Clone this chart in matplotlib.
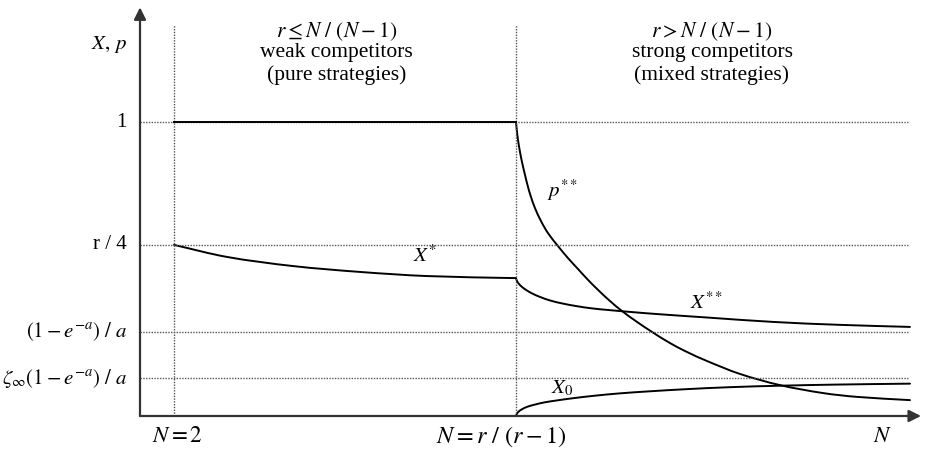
import matplotlib
matplotlib.use("Agg")
import matplotlib.pyplot as plt
import numpy as np
from matplotlib.path import Path
from matplotlib.patches import PathPatch

plt.rcParams['font.family'] = ['Liberation Serif', 'DejaVu Serif']
plt.rcParams['mathtext.fontset'] = 'stix'

# ---- data (arbitrary schematic units) ----
N2 = 0.34          # position of N = 2
Nc = 3.76          # position of N = r/(r-1)

levels = [1.0, 0.582, 0.286, 0.129]
level_labels = ['1', 'r / 4', r'$(1-e^{-a})\ /\ a$', r'$\zeta_{\infty}(1-e^{-a})\ /\ a$']

p_weak_x = [0.34, 3.76]
p_weak_y = [1.0, 1.0]

p_strong_x = [3.76, 3.77, 3.78, 3.80, 3.82, 3.85, 3.88, 3.91, 3.95, 4.01, 4.08, 4.18,
              4.28, 4.38, 4.48, 4.58, 4.70, 4.82, 4.97, 5.12, 5.28, 5.45, 5.67, 6.00,
              6.40, 6.83, 7.17, 7.70]
p_strong_y = [1.000, 0.966, 0.939, 0.898, 0.864, 0.820, 0.779, 0.745, 0.707, 0.663, 0.622, 0.578,
              0.537, 0.500, 0.463, 0.429, 0.391, 0.357, 0.320, 0.286, 0.252, 0.221, 0.187, 0.143,
              0.105, 0.078, 0.065, 0.054]

xs_x = [0.34, 0.87, 1.53, 2.20, 2.87, 3.76]
xs_y = [0.582, 0.541, 0.510, 0.490, 0.476, 0.469]

xss_x = [3.76, 3.77, 3.79, 3.82, 3.86, 3.92, 4.00, 4.10, 4.22, 4.36, 4.52, 4.70, 4.90,
         5.20, 5.67, 6.33, 7.00, 7.70]
xss_y = [0.469, 0.459, 0.449, 0.439, 0.429, 0.417, 0.405, 0.393, 0.383, 0.374, 0.366, 0.360,
         0.354, 0.346, 0.335, 0.320, 0.310, 0.303]

x0_x = [3.76, 3.77, 3.79, 3.82, 3.87, 3.94, 4.04, 4.17, 4.32, 4.52, 4.80, 5.10, 5.45,
        5.90, 6.40, 7.00, 7.70]
x0_y = [0.000, 0.0085, 0.016, 0.023, 0.031, 0.038, 0.046, 0.053, 0.060, 0.068, 0.077, 0.084,
        0.091, 0.098, 0.103, 0.107, 0.110]

fig = plt.figure(figsize=(9.25, 4.57), dpi=100)
ax = fig.add_axes([0, 0, 1, 1])
ax.set_xlim(-1.40, 7.85)
ax.set_ylim(-0.1395, 1.415)
ax.axis('off')


def smooth_curve(ax, xs, ys, **kw):
    """Draw a smooth curve through the given data points (cubic Bezier segments)."""
    P = np.column_stack([xs, ys]).astype(float)
    D = ax.transData.transform(P)
    d = np.hypot(*np.diff(D, axis=0).T)
    n = len(P)
    T = np.zeros_like(P)
    for i in range(n):
        if i == 0:
            T[i] = (P[1] - P[0]) / d[0]
        elif i == n - 1:
            T[i] = (P[-1] - P[-2]) / d[-1]
        else:
            T[i] = (P[i + 1] - P[i - 1]) / (d[i - 1] + d[i])
    verts = [P[0]]
    codes = [Path.MOVETO]
    for i in range(n - 1):
        c1 = P[i] + T[i] * d[i] / 3
        c2 = P[i + 1] - T[i + 1] * d[i] / 3
        verts += [c1, c2, P[i + 1]]
        codes += [Path.CURVE4] * 3
    ax.add_patch(PathPatch(Path(verts, codes), fill=False, transform=ax.transData,
                           capstyle='round', joinstyle='round', **kw))


dot = dict(color='#555555', lw=1.0, linestyle=(0, (1, 1)))
for lv in levels:
    ax.plot([0, 7.68], [lv, lv], **dot)
ax.plot([N2, N2], [0, 1.33], **dot)
ax.plot([Nc, Nc], [0, 1.33], **dot)

ax_col = '#333333'
ax.annotate('', xy=(0, 1.39), xytext=(0, 0),
            arrowprops=dict(arrowstyle='-|>', color=ax_col, lw=1.6, mutation_scale=18,
                            shrinkA=0, shrinkB=0))
ax.annotate('', xy=(7.81, 0), xytext=(0, 0),
            arrowprops=dict(arrowstyle='-|>', color=ax_col, lw=1.6, mutation_scale=18,
                            shrinkA=0, shrinkB=0))

lw = 1.4
ax.plot(p_weak_x, p_weak_y, color='black', lw=lw)
smooth_curve(ax, p_strong_x, p_strong_y, edgecolor='black', lw=lw)
smooth_curve(ax, xs_x, xs_y, edgecolor='black', lw=lw)
smooth_curve(ax, xss_x, xss_y, edgecolor='black', lw=lw)
smooth_curve(ax, x0_x, x0_y, edgecolor='black', lw=lw)

fs = 15
ax.text(-0.13, 1.262, r'$X,\,p$', ha='right', va='center', fontsize=fs)
for lv, lab in zip(levels, level_labels):
    ax.text(-0.13, lv, lab, ha='right', va='center', fontsize=fs)

hfs = 15.5
ax.text(1.965, 1.306, r'$r \leq N\ /\ (N-1)$', ha='center', va='center', fontsize=hfs)
ax.text(1.965, 1.235, 'weak competitors', ha='center', va='center', fontsize=hfs)
ax.text(1.965, 1.160, '(pure strategies)', ha='center', va='center', fontsize=hfs)
ax.text(5.72, 1.306, r'$r > N\ /\ (N-1)$', ha='center', va='center', fontsize=hfs)
ax.text(5.72, 1.235, 'strong competitors', ha='center', va='center', fontsize=hfs)
ax.text(5.72, 1.160, '(mixed strategies)', ha='center', va='center', fontsize=hfs)

bfs = 16.5
ax.text(0.37, -0.071, r'$N = 2$', ha='center', va='center', fontsize=bfs)
ax.text(3.61, -0.071, r'$N = r\ /\ (r-1)$', ha='center', va='center', fontsize=17.5)
ax.text(7.43, -0.071, r'$N$', ha='center', va='center', fontsize=bfs)

ax.text(2.85, 0.544, r'$X^{*}$', ha='center', va='center', fontsize=fs)
ax.text(4.23, 0.769, r'$p^{**}$', ha='center', va='center', fontsize=fs)
ax.text(5.67, 0.384, r'$X^{**}$', ha='center', va='center', fontsize=fs)
ax.text(4.22, 0.095, r'$X_0$', ha='center', va='center', fontsize=fs)

fig.savefig('out.png', dpi=100)
